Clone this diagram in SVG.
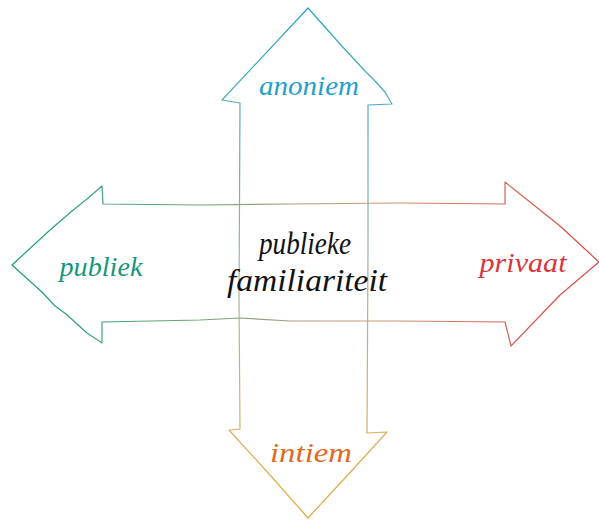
<svg xmlns="http://www.w3.org/2000/svg" width="599" height="520" viewBox="0 0 599 520">
  <defs>
    <linearGradient id="gv" gradientUnits="userSpaceOnUse" x1="0" y1="8" x2="0" y2="518">
      <stop offset="0" stop-color="#22a3c8"/>
      <stop offset="0.45" stop-color="#8fb5a8"/>
      <stop offset="0.7" stop-color="#c9b27a"/>
      <stop offset="1" stop-color="#eea43a"/>
    </linearGradient>
    <linearGradient id="gh" gradientUnits="userSpaceOnUse" x1="12" y1="0" x2="599" y2="0">
      <stop offset="0" stop-color="#13a07c"/>
      <stop offset="0.4" stop-color="#8fa27a"/>
      <stop offset="0.6" stop-color="#c99a7a"/>
      <stop offset="1" stop-color="#d8433c"/>
    </linearGradient>
  </defs>
  <style>
    .outline { fill: none; stroke-width: 1.2; stroke-linejoin: round; }
    .lbl { font-family: "Liberation Serif", "DejaVu Serif", serif; font-style: italic; font-size: 27px; text-anchor: middle; }
    .big { font-size: 32px; }
  </style>
  <g id="connectors">
    <g id="arrow-horizontal">
      <path class="outline" stroke="url(#gh)" d="M12,265 L50,230 L72,211 L87,199 L102,186 L103,204 L200,205 L290,204 L400,203 L505,204 L505,182 L535,206 L560,226 L599,262 L560,295 L511,346 L505,322 L400,321 L290,321 L240,318 L200,320 L102,322 L102,343 L87,333 L66,314 L55,306 L43,293 Z"/>
    </g>
    <g id="arrow-vertical">
      <path class="outline" stroke="url(#gv)" d="M308,8 L340,44 L365,71 L374,80 L385,92 L392,104 L368,105 L368,250 L367,433 L387,432 L345,478 L308,518 L270,475 L229,430 L240,429 L239,300 L240,103 L222,100 Z"/>
    </g>
  </g>
  <g id="node-anoniem">
    <text class="lbl" x="309" y="95" fill="#1f9fcc" textLength="100" lengthAdjust="spacingAndGlyphs">anoniem</text>
  </g>
  <g id="node-intiem">
    <text class="lbl" x="311" y="462" fill="#e06a1e" textLength="82" lengthAdjust="spacingAndGlyphs">intiem</text>
  </g>
  <g id="node-publiek">
    <text class="lbl" x="101" y="276" fill="#14977a" textLength="83" lengthAdjust="spacingAndGlyphs">publiek</text>
  </g>
  <g id="node-privaat">
    <text class="lbl" x="523" y="272" fill="#d9343c" textLength="87" lengthAdjust="spacingAndGlyphs">privaat</text>
  </g>
  <g id="node-center">
    <text class="lbl big" x="305" y="254" fill="#111111" textLength="92" lengthAdjust="spacingAndGlyphs">publieke</text>
    <text class="lbl big" x="307" y="291" fill="#111111" textLength="160" lengthAdjust="spacingAndGlyphs">familiariteit</text>
  </g>
</svg>
